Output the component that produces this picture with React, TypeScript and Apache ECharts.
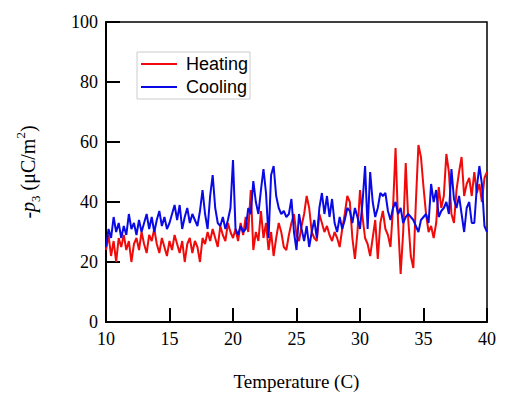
import React, { useEffect, useRef } from "react";
import * as echarts from "echarts";

const temperature = [
  10.0, 10.2, 10.4, 10.6, 10.8, 11.0, 11.2, 11.4, 11.6, 11.8,
  12.0, 12.2, 12.4, 12.6, 12.8, 13.0, 13.2, 13.4, 13.6, 13.8,
  14.0, 14.2, 14.4, 14.6, 14.8, 15.0, 15.2, 15.4, 15.6, 15.8,
  16.0, 16.2, 16.4, 16.6, 16.8, 17.0, 17.2, 17.4, 17.6, 17.8,
  18.0, 18.2, 18.4, 18.6, 18.8, 19.0, 19.2, 19.4, 19.6, 19.8,
  20.0, 20.2, 20.4, 20.6, 20.8, 21.0, 21.2, 21.4, 21.6, 21.8,
  22.0, 22.2, 22.4, 22.6, 22.8, 23.0, 23.2, 23.4, 23.6, 23.8,
  24.0, 24.2, 24.4, 24.6, 24.8, 25.0, 25.2, 25.4, 25.6, 25.8,
  26.0, 26.2, 26.4, 26.6, 26.8, 27.0, 27.2, 27.4, 27.6, 27.8,
  28.0, 28.2, 28.4, 28.6, 28.8, 29.0, 29.2, 29.4, 29.6, 29.8,
  30.0, 30.2, 30.4, 30.6, 30.8, 31.0, 31.2, 31.4, 31.6, 31.8,
  32.0, 32.2, 32.4, 32.6, 32.8, 33.0, 33.2, 33.4, 33.6, 33.8,
  34.0, 34.2, 34.4, 34.6, 34.8, 35.0, 35.2, 35.4, 35.6, 35.8,
  36.0, 36.2, 36.4, 36.6, 36.8, 37.0, 37.2, 37.4, 37.6, 37.8,
  38.0, 38.2, 38.4, 38.6, 38.8, 39.0, 39.2, 39.4, 39.6, 39.8,
  40.0,
];

const heating = [
  24, 29, 22, 27, 20, 28, 25, 29, 24, 27, 20, 26, 28, 24, 30, 26, 23, 29, 27, 31, 26, 23, 28, 25, 22, 27,
  24, 29, 26, 23, 27, 20, 26, 28, 23, 27, 25, 20, 28, 26, 30, 27, 31, 28, 25, 32, 29, 27, 33, 30, 28,
  31, 27, 33, 29, 35, 30, 44, 24, 30, 27, 37, 28, 33, 24, 30, 22, 28, 33, 30, 25, 24, 29, 33, 36, 29,
  27, 32, 36, 42, 38, 30, 28, 27, 36, 33, 30, 32, 29, 27, 30, 28, 25, 31, 36, 42, 40, 28, 21, 30, 44,
  35, 28, 26, 22, 28, 34, 21, 33, 37, 31, 29, 25, 38, 58, 33, 16, 30, 53, 34, 22, 18, 40, 59, 55, 45,
  36, 30, 32, 28, 33, 45, 38, 42, 56, 50, 36, 33, 44, 50, 55, 42, 46, 48, 42, 50, 43, 46, 40, 48, 50,
];

const cooling = [
  25, 31, 28, 35, 30, 33, 28, 32, 29, 36, 31, 33, 29, 34, 30, 33, 36, 31, 35, 30, 34, 37, 32, 35, 31, 33,
  36, 39, 34, 39, 31, 35, 38, 33, 36, 34, 32, 37, 44, 36, 31, 42, 49, 38, 33, 32, 35, 31, 34, 38, 54,
  31, 29, 32, 30, 31, 38, 36, 47, 40, 36, 44, 51, 43, 28, 49, 52, 42, 38, 36, 37, 35, 36, 41, 30, 24,
  36, 31, 27, 32, 25, 30, 34, 28, 38, 43, 36, 42, 35, 41, 33, 30, 35, 31, 34, 38, 37, 33, 38, 35, 31,
  40, 52, 31, 50, 40, 35, 38, 43, 42, 43, 37, 34, 38, 40, 36, 38, 33, 35, 36, 35, 34, 32, 30, 34, 35,
  36, 33, 46, 40, 44, 35, 37, 38, 40, 36, 51, 41, 38, 42, 36, 30, 38, 40, 33, 33, 45, 52, 46, 32, 30,
];

const seriesNames = ["Heating", "Cooling"];
const xTitle = "Temperature (C)";

const SERIF = "'Liberation Serif', 'Times New Roman', serif";
const SANS = "'Liberation Sans', Arial, sans-serif";

export default function App() {
  const ref = useRef<HTMLDivElement>(null);
  useEffect(() => {
    document.body.style.margin = "0";
    if (!ref.current) return;
    const chart = echarts.init(ref.current, undefined, { renderer: "svg" });
    const axisCommon = {
      axisLine: { show: true, lineStyle: { color: "#000", width: 2 } },
      axisTick: { show: true, inside: true, length: 14, lineStyle: { color: "#000", width: 2 } },
      splitLine: { show: false },
      axisLabel: { fontFamily: SERIF, fontSize: 18, color: "#000", margin: 8 },
    };
    chart.setOption({
      animation: false,
      backgroundColor: "#fff",
      grid: {
        left: 106,
        right: 42,
        top: 22,
        bottom: 74,
        show: true,
        borderColor: "#000",
        borderWidth: 1.5,
        backgroundColor: "transparent",
      },
      legend: {
        data: seriesNames,
        orient: "vertical",
        left: 137,
        top: 52,
        icon: "rect",
        itemWidth: 36,
        itemHeight: 2,
        itemGap: 5,
        padding: [3, 2, 3, 4],
        borderColor: "#cccccc",
        borderWidth: 1,
        backgroundColor: "#fff",
        textStyle: { fontFamily: SANS, fontSize: 18, color: "#000", padding: [0, 0, 0, 4] },
      },
      xAxis: {
        type: "value",
        min: 10,
        max: 40,
        interval: 5,
        ...axisCommon,
        name: xTitle,
        nameLocation: "middle",
        nameGap: 50,
        nameTextStyle: { fontFamily: SERIF, fontSize: 19, color: "#000" },
      },
      yAxis: {
        type: "value",
        min: 0,
        max: 100,
        interval: 20,
        ...axisCommon,
        name: "{t|-}{i|p}{s|3}{t| (μC/m}{u|2}{t|)}",
        nameLocation: "middle",
        nameRotate: 90,
        nameGap: 64,
        nameTextStyle: {
          fontFamily: SERIF,
          color: "#000",
          rich: {
            t: { fontFamily: SERIF, fontSize: 20, color: "#000", lineHeight: 28 },
            i: { fontFamily: SERIF, fontSize: 20, fontStyle: "italic", color: "#000", lineHeight: 28 },
            s: { fontFamily: SERIF, fontSize: 13, color: "#000", verticalAlign: "bottom", lineHeight: 14 },
            u: { fontFamily: SERIF, fontSize: 13, color: "#000", verticalAlign: "top", lineHeight: 14 },
          },
        },
      },
      series: [
        {
          name: seriesNames[0],
          type: "line",
          showSymbol: false,
          symbol: "none",
          color: "#f00a0a",
          lineStyle: { width: 2, color: "#f00a0a" },
          data: temperature.map((t, i) => [t, heating[i]]),
        },
        {
          name: seriesNames[1],
          type: "line",
          showSymbol: false,
          symbol: "none",
          color: "#0a0ae6",
          lineStyle: { width: 2, color: "#0a0ae6" },
          data: temperature.map((t, i) => [t, cooling[i]]),
        },
      ],
    });
    return () => chart.dispose();
  }, []);
  return <div ref={ref} style={{ width: 529, height: 396 }} />;
}
